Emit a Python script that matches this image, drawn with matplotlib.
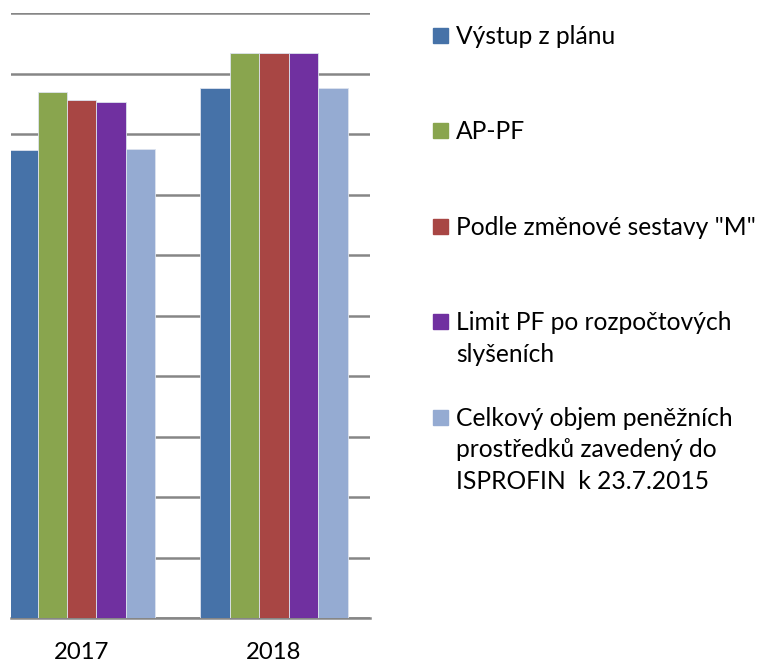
import matplotlib
matplotlib.use("Agg")
import matplotlib.pyplot as plt
import numpy as np
from matplotlib.patches import Rectangle

years = ["2017", "2018"]
series_names = [
    "Výstup z plánu",
    "AP-PF",
    'Podle změnové sestavy "M"',
    "Limit PF po rozpočtových\nslyšeních",
    "Celkový objem peněžních\nprostředků zavedený do\nISPROFIN  k 23.7.2015",
]
vystup = [7.74, 8.77]
ap_pf = [8.70, 9.35]
podle_m = [8.57, 9.35]
limit_pf = [8.54, 9.35]
celkovy = [7.76, 8.77]
colors = ["#4672A8", "#89A54E", "#A84644", "#7030A0", "#95ABD2"]

plt.rcParams["font.family"] = ["Lato", "DejaVu Sans"]

fig = plt.figure(figsize=(7.58, 6.64), dpi=100)
W, H = 758, 664
ax = fig.add_axes([11 / W, (H - 618.3) / H, (370 - 11) / W, 605 / H])

x = np.arange(len(years))
bw = 0.766 / 5
for i, vals in enumerate([vystup, ap_pf, podle_m, limit_pf, celkovy]):
    ax.bar(x + (i - 2) * bw, vals, bw, color=colors[i],
           edgecolor="#dde3ee", linewidth=0.6, zorder=3)

ax.set_xlim(-0.368, 1.5)
ax.set_ylim(0, 10)
ax.set_yticks(np.arange(0, 11, 1))
ax.yaxis.grid(True, color="#868686", linewidth=1.8, zorder=0)
ax.tick_params(axis="y", left=False, labelleft=False)
ax.tick_params(axis="x", length=0, pad=17, labelsize=17.2)
ax.set_xticks(x)
ax.set_xticklabels(years)
for s in ["left", "right", "top"]:
    ax.spines[s].set_visible(False)
ax.spines["bottom"].set_color("#868686")
ax.spines["bottom"].set_linewidth(1.8)

# legend drawn by hand to keep Excel-like spacing
entry_top = 35.5
entry_step = 95.4
line_step = 31.5
for i, name in enumerate(series_names):
    yc = entry_top + i * entry_step
    fig.patches.append(Rectangle((433 / W, 1 - (yc + 7.5) / H), 15 / W, 15 / H,
                                 transform=fig.transFigure, color=colors[i]))
    for j, line in enumerate(name.split("\n")):
        yb = yc + 8.5 + j * line_step
        fig.text(456 / W, 1 - yb / H, line, fontsize=17.7, va="baseline",
                 ha="left", color="#000000")

fig.savefig("out.png", dpi=100)
